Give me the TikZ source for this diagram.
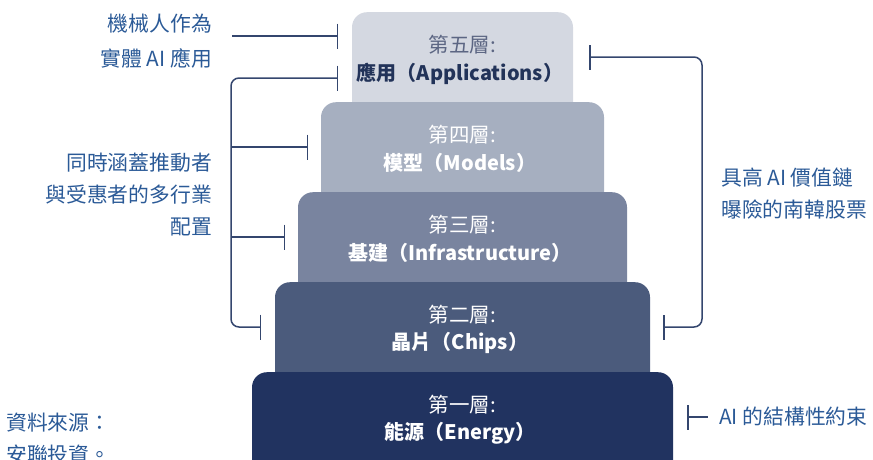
\documentclass[tikz,border=0pt]{standalone}
\usepackage{fontspec}
\setmainfont{Noto Sans CJK TC}
\usetikzlibrary{arrows.meta}
\definecolor{c5}{HTML}{D4D8E1}
\definecolor{c4}{HTML}{A6AFC0}
\definecolor{c3}{HTML}{79849F}
\definecolor{c2}{HTML}{4B5B7C}
\definecolor{c1}{HTML}{213360}
\definecolor{linec}{HTML}{34466E}
\definecolor{annc}{HTML}{2B5A97}
\definecolor{t5a}{HTML}{5C6683}
\definecolor{t5b}{HTML}{223359}
\begin{document}
\begin{tikzpicture}[x=1pt,y=-1pt,
  layer/.style={draw=none, rounded corners=15pt, minimum height=130pt, anchor=north, inner sep=0pt},
  titletxt/.style={font=\fontsize{20.5}{24}\selectfont, inner sep=0pt, anchor=center},
  nametxt/.style={font=\fontsize{20}{24}\selectfont\bfseries, inner sep=0pt, anchor=center},
  ann/.style={font=\fontsize{20.8}{25}\selectfont, text=annc, inner sep=0pt},
  conn/.style={draw=linec, line width=1.5pt}
]
\useasboundingbox (0,0) rectangle (873,459);
\clip (0,0) rectangle (873,459);
% layers
\node[layer, fill=c5, minimum width=221pt] (box5) at (462.5,12) {};
\node[layer, fill=c4, minimum width=283pt] (box4) at (462.5,102) {};
\node[layer, fill=c3, minimum width=329pt] (box3) at (462.5,192) {};
\node[layer, fill=c2, minimum width=375pt] (box2) at (462.5,282) {};
\node[layer, fill=c1, minimum width=421pt] (box1) at (462.5,372) {};
% layer texts
\node[titletxt, text=t5a] (l5a) at (462.5,45) {第五層:};
\node[nametxt, text=t5b] (l5b) at (460,74) {應用（Applications）};
\node[titletxt, text=white] (l4a) at (462.5,135) {第四層:};
\node[nametxt, text=white] (l4b) at (460,163) {模型（Models）};
\node[titletxt, text=white] (l3a) at (462.5,225) {第三層:};
\node[nametxt, text=white] (l3b) at (460,253) {基建（Infrastructure）};
\node[titletxt, text=white] (l2a) at (462.5,315) {第二層:};
\node[nametxt, text=white] (l2b) at (460,343) {晶片（Chips）};
\node[titletxt, text=white] (l1a) at (462.5,405) {第一層:};
\node[nametxt, text=white] (l1b) at (460,433) {能源（Energy）};
% annotations
\node[ann, anchor=east] (a1) at (212,24) {機械人作為};
\node[ann, anchor=east] (a2) at (212,58) {實體 AI 應用};
\node[ann, anchor=east] (b1) at (212,163) {同時涵蓋推動者};
\node[ann, anchor=east] (b2) at (212,195) {與受惠者的多行業};
\node[ann, anchor=east] (b3) at (212,227) {配置};
\node[ann, anchor=west] (r1) at (721,178) {具高 AI 價值鏈};
\node[ann, anchor=west] (r2) at (721,210) {曝險的南韓股票};
\node[ann, anchor=west] (e1) at (719,417) {AI 的結構性約束};
\node[ann, anchor=west] (s1) at (6,423) {資料來源：};
\node[ann, anchor=west] (s2) at (6,455) {安聯投資。};
% connector coordinates
\coordinate (pA) at (232,36);
\coordinate (tA) at (338,36);
\coordinate (t5) at (338,78);
\coordinate (t4) at (308,147);
\coordinate (t3) at (285,237);
\coordinate (t2) at (261,327);
\coordinate (k1) at (231,78);
\coordinate (k2) at (231,327);
\coordinate (k4) at (231,147);
\coordinate (k3) at (231,237);
\coordinate (rt5) at (589,57);
\coordinate (rt2) at (663,327);
\coordinate (rk1) at (702,57);
\coordinate (rk2) at (702,327);
\coordinate (et) at (687,417);
\coordinate (ee) at (708,417);
% connectors
\draw[conn, -{Bar[width=25pt]}] (pA) -- (tA);
\draw[conn, rounded corners=8pt, {Bar[width=25pt]}-{Bar[width=25pt]}] (t5) -- (k1) -- (k2) -- (t2);
\draw[conn, -{Bar[width=25pt]}] (k4) -- (t4);
\draw[conn, -{Bar[width=25pt]}] (k3) -- (t3);
\draw[conn, rounded corners=8pt, {Bar[width=25pt]}-{Bar[width=25pt]}] (rt5) -- (rk1) -- (rk2) -- (rt2);
\draw[conn, {Bar[width=25pt]}-] (et) -- (ee);
\end{tikzpicture}
\end{document}
